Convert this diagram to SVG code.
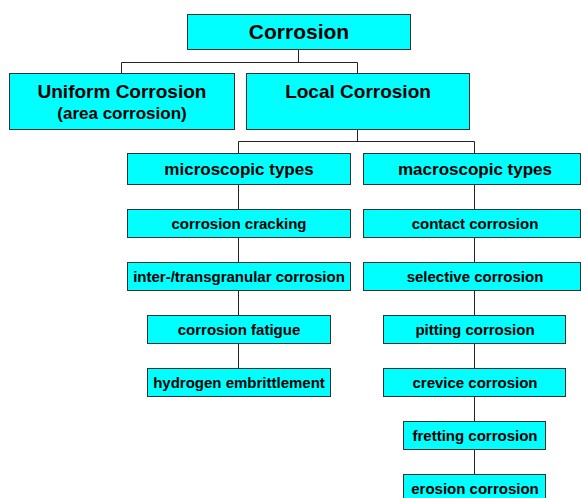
<svg xmlns="http://www.w3.org/2000/svg" width="581" height="498" viewBox="0 0 581 498">
<style>
.box{fill:#00FFFF;stroke:#333333;stroke-width:1}
.t{font-family:"Liberation Sans",Arial,sans-serif;font-weight:bold;fill:#000;text-anchor:middle}
.f21{font-size:21px}.f19{font-size:19px}.f17{font-size:17px}.f16{font-size:16px}.f15{font-size:15px}
.c{fill:none;stroke:#222222;stroke-width:1}
</style>
<rect width="581" height="498" fill="#ffffff"/>
<g id="connectors">
<path class="c" d="M298.5 49.5V62.5M121.5 73.5V62.5H357.5V73.5"/>
<path class="c" d="M357.5 129.5V141.5M238.5 153.5V141.5H474.5V153.5"/>
<path class="c" d="M238.5 184.5V368"/>
<path class="c" d="M474.5 184.5V474"/>
</g>
<g id="corrosion"><rect class="box" x="187.5" y="14.5" width="223" height="35"/><text class="t f21" x="299" y="39">Corrosion</text></g>
<g id="uniform"><rect class="box" x="9.5" y="73.5" width="225" height="56"/><text class="t f19" x="122" y="98">Uniform Corrosion</text><text class="t f17" x="122" y="119">(area corrosion)</text></g>
<g id="local"><rect class="box" x="246.5" y="73.5" width="223" height="56"/><text class="t f19" x="358" y="98">Local Corrosion</text></g>
<g id="micro"><rect class="box" x="127.5" y="153.5" width="223" height="31"/><text class="t f17" x="239" y="175">microscopic types</text></g>
<g id="macro"><rect class="box" x="363.5" y="153.5" width="217" height="31"/><text class="t f17" x="475" y="175">macroscopic types</text></g>
<g id="cracking"><rect class="box" x="127.5" y="209.5" width="223" height="28"/><text class="t f15" x="239" y="228.5">corrosion cracking</text></g>
<g id="contact"><rect class="box" x="363.5" y="209.5" width="217" height="28"/><text class="t f15" x="475" y="228.5">contact corrosion</text></g>
<g id="intergranular"><rect class="box" x="127.5" y="262.5" width="223" height="28"/><text class="t f15" x="239" y="281.5">inter-/transgranular corrosion</text></g>
<g id="selective"><rect class="box" x="363.5" y="262.5" width="217" height="28"/><text class="t f15" x="475" y="281.5">selective corrosion</text></g>
<g id="fatigue"><rect class="box" x="147.5" y="315.5" width="183" height="28"/><text class="t f15" x="239" y="334.5">corrosion fatigue</text></g>
<g id="pitting"><rect class="box" x="383.5" y="315.5" width="182" height="28"/><text class="t f15" x="475" y="334.5">pitting corrosion</text></g>
<g id="hydrogen"><rect class="box" x="147.5" y="368.5" width="183" height="28"/><text class="t f15" x="239" y="387.5">hydrogen embrittlement</text></g>
<g id="crevice"><rect class="box" x="383.5" y="368.5" width="182" height="28"/><text class="t f15" x="475" y="387.5">crevice corrosion</text></g>
<g id="fretting"><rect class="box" x="403.5" y="421.5" width="142" height="28"/><text class="t f15" x="475" y="440.5">fretting corrosion</text></g>
<g id="erosion"><rect class="box" x="403.5" y="474.5" width="142" height="28"/><text class="t f15" x="475" y="493.5">erosion corrosion</text></g>
</svg>
